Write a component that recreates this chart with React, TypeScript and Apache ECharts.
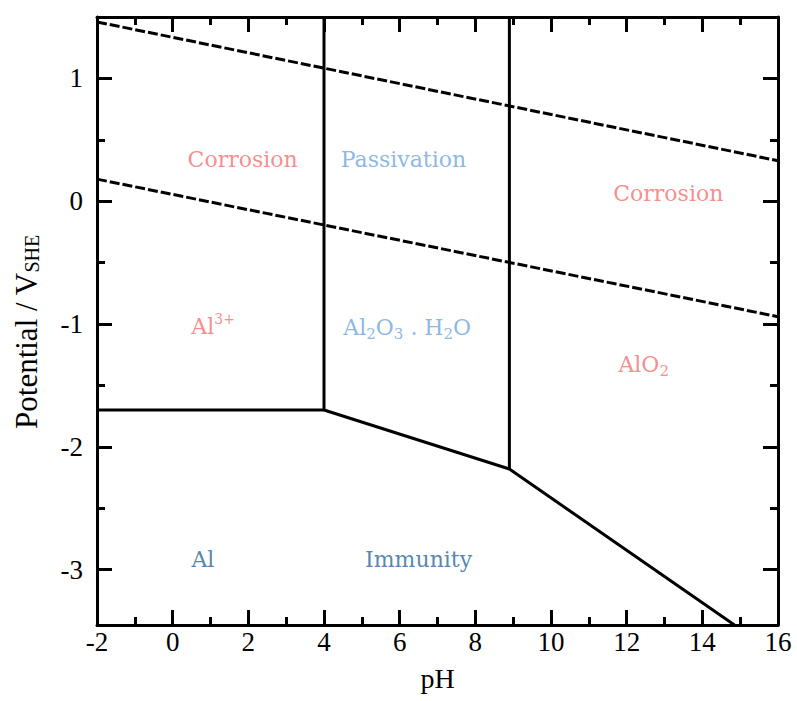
import React, { useEffect, useRef } from "react";
import * as echarts from "echarts";

const xMin = -2;
const xMax = 16;
const yMin = -3.45;
const yMax = 1.5;
const yMajorTicks = [-3, -2, -1, 0, 1];
const yMinorTicks = [-2.5, -1.5, -0.5, 0.5];

const upperDashed = [[-2, 1.46], [16, 0.33]];
const lowerDashed = [[-2, 0.18], [16, -0.94]];
const lowerBoundary = [[-2, -1.7], [4, -1.7], [8.9, -2.18], [14.85, -3.45]];
const verticalLeft = [[4, -1.7], [4, 1.5]];
const verticalRight = [[8.9, -2.18], [8.9, 1.5]];

const RED = "#f27272";
const LIGHT_BLUE = "#6fa6dc";
const DARK_BLUE = "#2c6699";

const regionLabels = [
  { x: 1.85, y: 0.34, text: "{n|Corrosion}", color: RED },
  { x: 6.1, y: 0.34, text: "{n|Passivation}", color: LIGHT_BLUE },
  { x: 13.1, y: 0.06, text: "{n|Corrosion}", color: RED },
  { x: 1.07, y: -1.02, text: "{n|Al}{sup|3+}", color: RED },
  { x: 6.2, y: -1.03, text: "{n|Al}{sub|2}{n|O}{sub|3}{n| . H}{sub|2}{n|O}", color: LIGHT_BLUE },
  { x: 12.45, y: -1.33, text: "{n|AlO}{sub|2}", color: RED },
  { x: 0.8, y: -2.92, text: "{n|Al}", color: DARK_BLUE },
  { x: 6.5, y: -2.92, text: "{n|Immunity}", color: DARK_BLUE },
];

const AXIS_FONT = "Liberation Serif";
const LABEL_FONT = "DejaVu Serif";

export default function App() {
  const ref = useRef<HTMLDivElement>(null);
  useEffect(() => {
    if (!ref.current) return;
    const chart = echarts.init(ref.current, null, { renderer: "svg" });
    const axisLine = { show: true, onZero: false, lineStyle: { color: "#000", width: 3 } };
    const majorTick = { show: true, inside: true, length: 15, lineStyle: { color: "#000", width: 3 } };
    const minorTickStyle = { show: true, splitNumber: 2, length: 8, lineStyle: { color: "#000", width: 3 } };
    const lineSeries = (data: number[][], dashed: boolean) => ({
      type: "line",
      data,
      xAxisIndex: 0,
      yAxisIndex: 0,
      symbol: "none",
      silent: true,
      clip: true,
      lineStyle: { color: "#000", width: 3, type: dashed ? [10, 3] : "solid" },
    });
    const yBase = {
      type: "value",
      min: yMin,
      max: yMax,
      splitLine: { show: false },
    };
    chart.setOption({
      animation: false,
      backgroundColor: "#fff",
      grid: { left: 97, right: 19, top: 17, bottom: 76, containLabel: false },
      xAxis: [
        {
          type: "value",
          min: xMin,
          max: xMax,
          interval: 2,
          position: "bottom",
          axisLine,
          axisTick: majorTick,
          minorTick: minorTickStyle,
          splitLine: { show: false },
          minorSplitLine: { show: false },
          axisLabel: { color: "#000", fontFamily: AXIS_FONT, fontSize: 27, margin: 3 },
          name: "pH",
          nameLocation: "middle",
          nameGap: 39,
          nameTextStyle: { color: "#000", fontFamily: AXIS_FONT, fontSize: 28 },
        },
        {
          type: "value",
          min: xMin,
          max: xMax,
          interval: 2,
          position: "top",
          axisLine,
          axisTick: majorTick,
          minorTick: minorTickStyle,
          splitLine: { show: false },
          minorSplitLine: { show: false },
          axisLabel: { show: false },
        },
      ],
      yAxis: [
        {
          ...yBase,
          position: "left",
          axisLine,
          axisTick: { ...majorTick, customValues: yMajorTicks },
          axisLabel: {
            customValues: yMajorTicks,
            color: "#000",
            fontFamily: AXIS_FONT,
            fontSize: 27,
            margin: 14,
          },
          name: "{a|Potential / V}{s|SHE}",
          nameLocation: "middle",
          nameGap: 55,
          nameRotate: 90,
          nameTextStyle: {
            color: "#000",
            fontFamily: AXIS_FONT,
            fontSize: 31,
            rich: {
              a: { fontFamily: AXIS_FONT, fontSize: 31, color: "#000" },
              s: { fontFamily: AXIS_FONT, fontSize: 20, color: "#000", padding: [12, 22, 0, 0] },
            },
          },
        },
        {
          ...yBase,
          position: "left",
          axisLine: { show: false, onZero: false },
          axisTick: { ...majorTick, length: 8, customValues: yMinorTicks },
          axisLabel: { show: false },
        },
        {
          ...yBase,
          position: "right",
          axisLine,
          axisTick: { ...majorTick, customValues: yMajorTicks },
          axisLabel: { show: false },
        },
        {
          ...yBase,
          position: "right",
          axisLine: { show: false, onZero: false },
          axisTick: { ...majorTick, length: 8, customValues: yMinorTicks },
          axisLabel: { show: false },
        },
      ],
      series: [
        lineSeries(upperDashed, true),
        lineSeries(lowerDashed, true),
        lineSeries(lowerBoundary, false),
        lineSeries(verticalLeft, false),
        lineSeries(verticalRight, false),
        {
          type: "scatter",
          xAxisIndex: 0,
          yAxisIndex: 0,
          symbolSize: 0,
          silent: true,
          data: regionLabels.map((l) => ({
            value: [l.x, l.y],
            label: {
              show: true,
              position: "inside",
              formatter: l.text,
              rich: {
                n: { fontFamily: LABEL_FONT, fontSize: 22, color: l.color },
                sup: { fontFamily: LABEL_FONT, fontSize: 14, color: l.color, padding: [0, 0, 16, 0] },
                sub: { fontFamily: LABEL_FONT, fontSize: 15, color: l.color, padding: [12, 0, 0, 0] },
              },
            },
          })),
        },
      ],
    });
    return () => chart.dispose();
  }, []);
  return (
    <div
      ref={ref}
      style={{ position: "absolute", left: 0, top: 0, width: 797, height: 701 }}
    />
  );
}
